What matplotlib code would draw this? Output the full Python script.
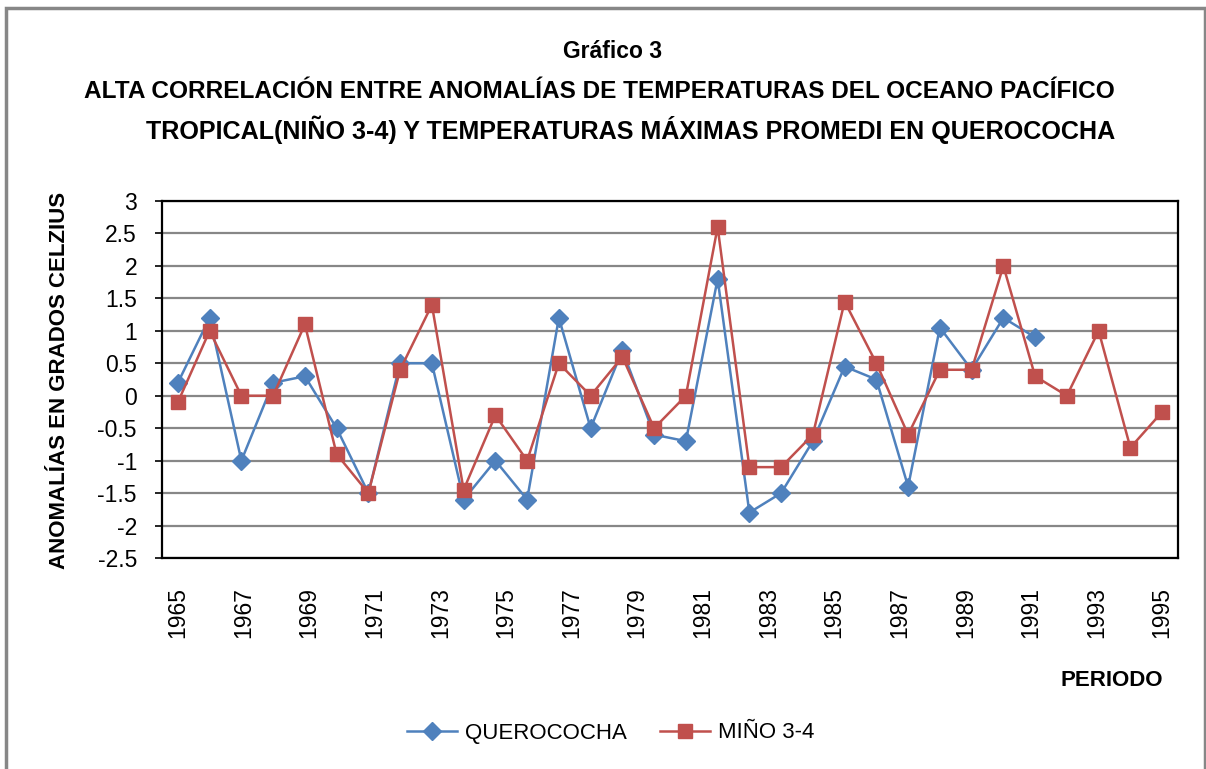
import numpy as np
import matplotlib.pyplot as plt
from matplotlib.patches import Rectangle

plt.rcParams['font.family'] = ['Liberation Sans', 'DejaVu Sans']

# Year labels shown on the axis (every other year)
year_labels = ['1965', '1967', '1969', '1971', '1973', '1975', '1977', '1979',
               '1981', '1983', '1985', '1987', '1989', '1991', '1993', '1995']

# Anomalies (°C), 32 points per series
querococha = [0.2, 1.2, -1.0, 0.2, 0.3, -0.5, -1.5, 0.5, 0.5, -1.6, -1.0, -1.6,
              1.2, -0.5, 0.7, -0.6, -0.7, 1.8, -1.8, -1.5, -0.7, 0.45, 0.25, -1.4,
              1.05, 0.4, 1.2, 0.9, None, None, None, None]
nino34 = [-0.1, 1.0, 0.0, 0.0, 1.1, -0.9, -1.5, 0.4, 1.4, -1.45, -0.3, -1.0,
          0.5, 0.0, 0.6, -0.5, 0.0, 2.6, -1.1, -1.1, -0.6, 1.45, 0.5, -0.6,
          0.4, 0.4, 2.0, 0.3, 0.0, 1.0, -0.8, -0.25]

blue = '#4F81BD'
red = '#C0504D'

x = np.arange(len(nino34))
q = np.array([np.nan if v is None else v for v in querococha], dtype=float)

fig = plt.figure(figsize=(12.06, 7.69), dpi=100)
ax = fig.add_axes([162 / 1206, 1 - 558 / 769, (1178 - 162) / 1206, (558 - 201) / 769])

ax.plot(x, q, color=blue, lw=1.8, marker='D', ms=9, mec=blue, mfc=blue,
        label='QUEROCOCHA', zorder=3)
ax.plot(x, nino34, color=red, lw=1.8, marker='s', ms=10.5, mec=red, mfc=red,
        label='MIÑO 3-4', zorder=4)

ax.set_xlim(-0.5, len(nino34) - 0.5)
ax.set_ylim(-2.5, 3)
ax.set_yticks(np.arange(-2.5, 3.01, 0.5))
ax.set_yticklabels(['-2.5', '-2', '-1.5', '-1', '-0.5', '0', '0.5', '1', '1.5',
                    '2', '2.5', '3'])
ax.set_xticks(np.linspace(0, len(nino34) - 1, len(year_labels)))
ax.set_xticklabels(year_labels, rotation=90)
ax.tick_params(axis='y', length=5, width=1.2, pad=13, labelsize=16.5)
ax.tick_params(axis='x', length=0, pad=21, labelsize=16.5)
ax.grid(axis='y', color='#878787', lw=1.6)
ax.set_axisbelow(True)
for s in ax.spines.values():
    s.set_linewidth(1.6)
    s.set_color('black')

# Titles
fig.text(613 / 1206, 1 - 52 / 769, 'Gráfico 3', ha='center', va='center',
         fontsize=16.5, fontweight='bold')
fig.text(1115 / 1206, 1 - 92 / 769,
         'ALTA CORRELACIÓN ENTRE ANOMALÍAS DE TEMPERATURAS DEL OCEANO PACÍFICO',
         ha='right', va='center', fontsize=17.6, fontweight='bold')
fig.text(1115 / 1206, 1 - 130 / 769,
         'TROPICAL(NIÑO 3-4) Y TEMPERATURAS MÁXIMAS PROMEDI EN QUEROCOCHA',
         ha='right', va='center', fontsize=18.1, fontweight='bold')

fig.text(60 / 1206, 1 - 380 / 769, 'ANOMALÍAS EN GRADOS CELZIUS', rotation=90,
         ha='center', va='center', fontsize=16, fontweight='bold')
fig.text(1163 / 1206, 1 - 681 / 769, 'PERIODO', ha='right', va='center',
         fontsize=16, fontweight='bold')

fig.legend(loc='center', bbox_to_anchor=(611 / 1206, 1 - 733 / 769), ncol=2,
           frameon=False, fontsize=16, handlelength=2.25, handletextpad=0.35,
           columnspacing=1.5)

# Chart area border
fig.patches.append(Rectangle((6 / 1206, -0.05), 1198.5 / 1206, 1.05 - 8 / 769,
                             transform=fig.transFigure, fill=False,
                             edgecolor='#878787', lw=2.5, zorder=0))

fig.savefig('out.png', dpi=100)
